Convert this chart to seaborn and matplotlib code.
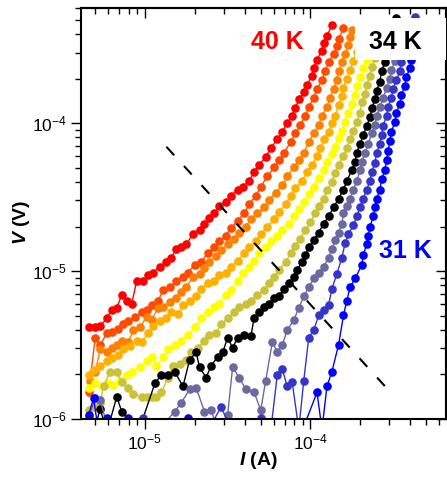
import numpy as np
import pandas as pd
import matplotlib
matplotlib.use("Agg")
import matplotlib.pyplot as plt
import seaborn as sns
from matplotlib.patches import Rectangle
from matplotlib.ticker import NullFormatter

# ---------------- data (log10 of current in A, log10 of voltage in V) ----------------
temperatures = ["40 K", "39 K", "38 K", "37 K", "36 K", "35 K", "34 K", "33 K", "32 K", "31 K"]
colors = ["#FF0000", "#FF4A00", "#FF8000", "#FFB000", "#FFFF00",
          "#CCC23A", "#000000", "#6A6AA0", "#3535CC", "#0000FF"]

logI_40 = [-5.34, -5.30, -5.27, -5.23, -5.20, -5.17, -5.14, -5.11, -5.08, -5.05, -5.01, -4.98, -4.95, -4.91, -4.87, -4.84,
           -4.81, -4.78, -4.75, -4.71, -4.67, -4.64, -4.61, -4.58, -4.55, -4.51, -4.48, -4.44, -4.41, -4.37, -4.34, -4.31,
           -4.27, -4.24, -4.20, -4.17, -4.14, -4.11, -4.09, -4.07, -4.04, -4.02, -3.99, -3.98, -3.96, -3.93, -3.92, -3.90, -3.87]
logV_40 = [-5.38, -5.38, -5.37, -5.32, -5.26, -5.25, -5.16, -5.20, -5.22, -5.07, -5.07, -5.03, -5.01, -4.97, -4.94, -4.91,
           -4.85, -4.84, -4.82, -4.75, -4.72, -4.68, -4.64, -4.61, -4.56, -4.53, -4.49, -4.45, -4.43, -4.39, -4.33, -4.28,
           -4.23, -4.17, -4.11, -4.06, -4.00, -3.95, -3.90, -3.84, -3.79, -3.74, -3.68, -3.63, -3.57, -3.51, -3.46, -3.41, -3.34]

logI_39 = [-5.34, -5.30, -5.27, -5.23, -5.20, -5.16, -5.13, -5.10, -5.06, -5.02, -4.99, -4.96, -4.92, -4.89, -4.85, -4.81,
           -4.77, -4.74, -4.70, -4.66, -4.62, -4.58, -4.55, -4.51, -4.48, -4.44, -4.40, -4.37, -4.33, -4.30, -4.26, -4.22,
           -4.19, -4.16, -4.12, -4.09, -4.06, -4.03, -4.01, -3.98, -3.96, -3.93, -3.91, -3.89, -3.86, -3.84, -3.83, -3.80]
logV_39 = [-5.82, -5.45, -5.50, -5.42, -5.41, -5.39, -5.36, -5.34, -5.31, -5.28, -5.26, -5.23, -5.20, -5.13, -5.11, -5.07,
           -5.04, -5.01, -4.96, -4.94, -4.88, -4.84, -4.80, -4.76, -4.71, -4.66, -4.61, -4.55, -4.49, -4.43, -4.36, -4.30,
           -4.25, -4.20, -4.13, -4.07, -4.01, -3.95, -3.89, -3.83, -3.77, -3.71, -3.65, -3.59, -3.53, -3.48, -3.43, -3.36]

logI_38 = [-5.33, -5.30, -5.27, -5.23, -5.20, -5.17, -5.14, -5.10, -5.07, -5.03, -4.99, -4.96, -4.92, -4.89, -4.85, -4.81,
           -4.78, -4.75, -4.71, -4.67, -4.64, -4.61, -4.57, -4.54, -4.50, -4.46, -4.43, -4.39, -4.36, -4.32, -4.28, -4.25,
           -4.21, -4.17, -4.14, -4.10, -4.07, -4.04, -4.01, -3.98, -3.95, -3.93, -3.90, -3.88, -3.86, -3.84, -3.83, -3.81,
           -3.79, -3.77, -3.76, -3.75]
logV_38 = [-5.74, -5.68, -5.53, -5.55, -5.52, -5.50, -5.47, -5.48, -5.40, -5.38, -5.31, -5.33, -5.25, -5.24, -5.21, -5.18,
           -5.14, -5.11, -5.04, -5.02, -4.98, -4.94, -4.90, -4.86, -4.82, -4.78, -4.74, -4.70, -4.65, -4.61, -4.57, -4.52,
           -4.47, -4.42, -4.36, -4.30, -4.25, -4.20, -4.13, -4.07, -4.01, -3.95, -3.89, -3.83, -3.77, -3.71, -3.65, -3.59,
           -3.53, -3.47, -3.42, -3.37]

logI_37 = [-5.34, -5.31, -5.27, -5.23, -5.20, -5.16, -5.13, -5.09, -5.05, -5.02, -4.98, -4.95, -4.91, -4.87, -4.84, -4.80,
           -4.77, -4.73, -4.69, -4.66, -4.62, -4.58, -4.55, -4.51, -4.48, -4.44, -4.40, -4.37, -4.33, -4.30, -4.26, -4.22,
           -4.19, -4.15, -4.12, -4.09, -4.05, -4.02, -3.99, -3.96, -3.94, -3.92, -3.89, -3.87, -3.85, -3.83, -3.81, -3.80,
           -3.78, -3.76, -3.74, -3.72, -3.70, -3.69, -3.67]
logV_37 = [-5.70, -5.67, -5.64, -5.61, -5.59, -5.57, -5.53, -5.51, -5.47, -5.48, -5.42, -5.37, -5.34, -5.32, -5.28, -5.29,
           -5.23, -5.20, -5.17, -5.12, -5.08, -5.07, -5.03, -5.01, -4.97, -4.93, -4.88, -4.84, -4.80, -4.75, -4.70, -4.65,
           -4.60, -4.55, -4.49, -4.44, -4.39, -4.33, -4.28, -4.22, -4.17, -4.11, -4.06, -4.00, -3.95, -3.88, -3.82, -3.76,
           -3.70, -3.64, -3.58, -3.52, -3.46, -3.40, -3.34]

logI_36 = [-5.34, -5.30, -5.26, -5.22, -5.19, -5.15, -5.11, -5.08, -5.03, -4.99, -4.96, -4.93, -4.89, -4.86, -4.82, -4.78,
           -4.74, -4.70, -4.66, -4.62, -4.58, -4.55, -4.51, -4.48, -4.44, -4.41, -4.37, -4.34, -4.31, -4.27, -4.24, -4.20,
           -4.17, -4.13, -4.10, -4.07, -4.04, -4.01, -3.98, -3.95, -3.92, -3.90, -3.87, -3.85, -3.83, -3.81, -3.79, -3.77,
           -3.75, -3.73, -3.72, -3.70, -3.68, -3.66, -3.64, -3.63, -3.61, -3.60]
logV_36 = [-5.79, -5.76, -5.78, -5.76, -5.77, -5.74, -5.70, -5.68, -5.65, -5.61, -5.58, -5.64, -5.58, -5.53, -5.50, -5.47,
           -5.43, -5.38, -5.32, -5.28, -5.24, -5.22, -5.16, -5.13, -5.07, -5.01, -4.97, -4.93, -4.88, -4.84, -4.80, -4.76,
           -4.72, -4.68, -4.63, -4.58, -4.53, -4.48, -4.43, -4.37, -4.32, -4.26, -4.21, -4.16, -4.10, -4.05, -3.99, -3.93,
           -3.87, -3.81, -3.75, -3.69, -3.63, -3.57, -3.51, -3.45, -3.38, -3.32]

logI_35 = [-5.34, -5.31, -5.27, -5.25, -5.21, -5.17, -5.14, -5.10, -5.07, -5.02, -4.99, -4.96, -4.93, -4.90, -4.86, -4.83,
           -4.79, -4.75, -4.72, -4.68, -4.64, -4.61, -4.57, -4.54, -4.50, -4.46, -4.43, -4.39, -4.36, -4.32, -4.28, -4.25,
           -4.22, -4.19, -4.15, -4.12, -4.09, -4.06, -4.03, -4.00, -3.97, -3.95, -3.92, -3.90, -3.87, -3.85, -3.83, -3.80,
           -3.78, -3.76, -3.74, -3.72, -3.70, -3.69, -3.67, -3.66, -3.64, -3.63, -3.61, -3.60, -3.58, -3.57, -3.55]
logV_35 = [-5.94, -5.92, -5.89, -5.78, -5.68, -5.68, -5.75, -5.79, -5.83, -5.85, -5.85, -5.85, -5.85, -5.82, -5.72, -5.64,
           -5.63, -5.60, -5.55, -5.52, -5.47, -5.43, -5.42, -5.36, -5.32, -5.28, -5.24, -5.22, -5.20, -5.16, -5.13, -5.08,
           -5.04, -4.99, -4.94, -4.88, -4.83, -4.78, -4.72, -4.67, -4.61, -4.56, -4.51, -4.45, -4.40, -4.34, -4.28, -4.22,
           -4.17, -4.11, -4.05, -3.99, -3.93, -3.86, -3.80, -3.74, -3.68, -3.62, -3.56, -3.50, -3.44, -3.38, -3.32]

logI_34 = [-5.32, -5.27, -5.23, -5.17, -5.14, -5.04, -4.94, -4.90, -4.86, -4.82, -4.77, -4.73, -4.69, -4.67, -4.63, -4.60,
           -4.56, -4.53, -4.50, -4.47, -4.44, -4.40, -4.36, -4.34, -4.31, -4.28, -4.25, -4.22, -4.19, -4.16, -4.13, -4.10,
           -4.08, -4.05, -4.03, -4.01, -3.98, -3.95, -3.92, -3.89, -3.86, -3.83, -3.80, -3.78, -3.75, -3.73, -3.72, -3.70,
           -3.68, -3.66, -3.64, -3.63, -3.61, -3.60, -3.58, -3.57, -3.55, -3.53, -3.52, -3.50, -3.49, -3.48]
logV_34 = [-6.14, -5.93, -6.09, -5.85, -5.95, -6.09, -5.76, -5.70, -5.70, -5.68, -5.78, -5.60, -5.55, -5.65, -5.72, -5.64,
           -5.58, -5.55, -5.45, -5.52, -5.45, -5.43, -5.44, -5.32, -5.28, -5.24, -5.22, -5.18, -5.17, -5.12, -5.08, -5.04,
           -4.99, -4.94, -4.89, -4.84, -4.79, -4.74, -4.68, -4.63, -4.57, -4.51, -4.45, -4.39, -4.32, -4.26, -4.20, -4.14,
           -4.08, -4.02, -3.96, -3.90, -3.84, -3.78, -3.72, -3.65, -3.59, -3.53, -3.47, -3.41, -3.35, -3.29]

logI_33 = [-5.34, -5.30, -5.27, -5.23, -5.15, -4.97, -4.82, -4.78, -4.73, -4.69, -4.64, -4.60, -4.55, -4.50, -4.47, -4.43,
           -4.39, -4.34, -4.30, -4.27, -4.23, -4.20, -4.17, -4.14, -4.10, -4.07, -4.04, -4.01, -3.98, -3.95, -3.92, -3.89,
           -3.87, -3.85, -3.83, -3.81, -3.80, -3.78, -3.76, -3.74, -3.72, -3.70, -3.69, -3.67, -3.65, -3.63, -3.61, -3.60,
           -3.58, -3.56, -3.54, -3.52, -3.51, -3.49, -3.48, -3.46, -3.45, -3.43]
logV_33 = [-5.99, -5.86, -5.87, -6.04, -6.18, -6.14, -5.95, -5.89, -5.80, -5.79, -5.95, -5.94, -6.11, -5.97, -5.65, -5.72,
           -5.80, -5.82, -5.94, -5.74, -5.48, -5.55, -5.50, -5.40, -5.33, -5.25, -5.17, -5.11, -5.05, -5.01, -4.97, -4.91,
           -4.85, -4.79, -4.74, -4.68, -4.61, -4.56, -4.51, -4.45, -4.39, -4.32, -4.26, -4.20, -4.14, -4.07, -4.01, -3.95,
           -3.89, -3.83, -3.76, -3.70, -3.64, -3.58, -3.52, -3.46, -3.40, -3.34]

logI_32 = [-5.34, -5.24, -5.01, -4.88, -4.67, -4.54, -4.43, -4.30, -4.25, -4.20, -4.17, -4.14, -4.11, -4.07, -4.04, -4.01,
           -3.98, -3.95, -3.92, -3.89, -3.87, -3.84, -3.81, -3.79, -3.77, -3.74, -3.72, -3.70, -3.68, -3.66, -3.64, -3.63,
           -3.61, -3.60, -3.58, -3.57, -3.56, -3.54, -3.53, -3.51, -3.50, -3.48, -3.46, -3.45, -3.43, -3.42, -3.40, -3.39, -3.37]
logV_32 = [-6.07, -6.18, -5.99, -6.18, -6.18, -5.92, -6.18, -5.99, -6.18, -5.70, -5.66, -5.78, -5.75, -6.07, -5.74, -5.45,
           -5.40, -5.30, -5.26, -5.23, -5.12, -5.02, -4.91, -4.81, -4.75, -4.69, -4.63, -4.57, -4.51, -4.45, -4.39, -4.33,
           -4.27, -4.20, -4.14, -4.08, -4.02, -3.95, -3.89, -3.83, -3.77, -3.71, -3.65, -3.59, -3.52, -3.46, -3.40, -3.34, -3.28]

logI_31 = [-5.34, -5.31, -5.28, -5.23, -5.17, -5.10, -4.97, -4.74, -4.61, -4.40, -4.19, -4.07, -3.96, -3.93, -3.90, -3.87,
           -3.83, -3.80, -3.78, -3.76, -3.73, -3.69, -3.68, -3.66, -3.65, -3.64, -3.62, -3.61, -3.60, -3.58, -3.57, -3.55,
           -3.54, -3.53, -3.52, -3.51, -3.49, -3.48, -3.46, -3.45, -3.43, -3.42, -3.40, -3.39, -3.37, -3.36, -3.34, -3.33]
logV_31 = [-5.97, -5.86, -6.09, -5.99, -6.14, -5.99, -6.18, -5.99, -6.18, -6.18, -6.21, -6.14, -5.82, -6.07, -5.78, -5.68,
           -5.50, -5.30, -5.20, -5.11, -5.05, -4.96, -4.89, -4.82, -4.76, -4.70, -4.63, -4.57, -4.51, -4.45, -4.38, -4.32,
           -4.25, -4.19, -4.12, -4.06, -3.99, -3.93, -3.87, -3.81, -3.75, -3.69, -3.63, -3.57, -3.51, -3.44, -3.38, -3.32]

# dashed guide line (log10 I, log10 V) at its two ends
guide_logI = [-4.87, -3.54]
guide_logV = [-4.16, -5.79]

series = {
    "40 K": (logI_40, logV_40), "39 K": (logI_39, logV_39), "38 K": (logI_38, logV_38),
    "37 K": (logI_37, logV_37), "36 K": (logI_36, logV_36), "35 K": (logI_35, logV_35),
    "34 K": (logI_34, logV_34), "33 K": (logI_33, logV_33), "32 K": (logI_32, logV_32),
    "31 K": (logI_31, logV_31),
}

frames = []
for T, (li, lv) in series.items():
    frames.append(pd.DataFrame({"T": T, "order": np.arange(len(li)),
                                "I": 10.0 ** np.asarray(li), "V": 10.0 ** np.asarray(lv)}))
df = pd.concat(frames, ignore_index=True)

# ---------------- style ----------------
plt.rcParams.update({
    "font.family": ["Liberation Sans", "DejaVu Sans"],
    "mathtext.fontset": "custom",
    "mathtext.rm": "Liberation Sans",
    "mathtext.it": "Liberation Sans:italic",
    "mathtext.bf": "Liberation Sans:bold",
    "mathtext.bfit": "Liberation Sans:italic:bold",
    "axes.linewidth": 1.5,
})

fig = plt.figure(figsize=(4.47, 4.79), dpi=100)
ax = fig.add_axes([0.1812, 0.1253, 0.8166, 0.858])
ax.set_xscale("log")
ax.set_yscale("log")

sns.lineplot(data=df, x="I", y="V", hue="T", hue_order=temperatures,
             palette=dict(zip(temperatures, colors)), units="T", estimator=None,
             sort=False, marker="o", markersize=6.2, markeredgewidth=0,
             linewidth=1.0, legend=False, ax=ax)

ax.plot(10.0 ** np.asarray(guide_logI), 10.0 ** np.asarray(guide_logV),
        color="black", linewidth=1.5, dashes=(5.5, 7), zorder=5)

ax.set_xlim(4.11e-6, 6.6e-4)
ax.set_ylim(1e-6, 6e-4)

# ticks: outward on bottom/left, inward on top/right
ax.tick_params(which="both", direction="out", width=1.0, labelsize=12.5, pad=3)
ax.tick_params(which="major", length=7)
ax.tick_params(which="minor", length=4)
secx = ax.secondary_xaxis("top")
secy = ax.secondary_yaxis("right")
for sec, axis in ((secx, secx.xaxis), (secy, secy.yaxis)):
    axis.set_major_formatter(NullFormatter())
    axis.set_minor_formatter(NullFormatter())
    sec.tick_params(which="both", direction="in", width=1.0)
    sec.tick_params(which="major", length=7)
    sec.tick_params(which="minor", length=4)

ax.set_xlabel(r"$\mathbfit{I}$ (A)", fontsize=14, fontweight="bold")
ax.set_ylabel(r"$\mathbfit{V}$ (V)", fontsize=14, fontweight="bold")
ax.xaxis.set_label_coords(0.485, -0.075)
ax.yaxis.set_label_coords(-0.135, 0.479)

# white box behind the 34 K label
ax.add_patch(Rectangle((0.7507, 0.8735), 0.26, 0.103, transform=ax.transAxes,
                       facecolor="white", edgecolor="none", zorder=6))
label_style = dict(fontsize=18, fontweight="bold", ha="center", va="baseline",
                   transform=ax.transAxes, zorder=7)
ax.text(0.538, 0.8995, "40 K", color="#FF0000", **label_style)
ax.text(0.860, 0.8995, "34 K", color="#000000", **label_style)
ax.text(0.890, 0.391, "31 K", color="#0000FF", **label_style)

fig.savefig("out.png", dpi=100)
